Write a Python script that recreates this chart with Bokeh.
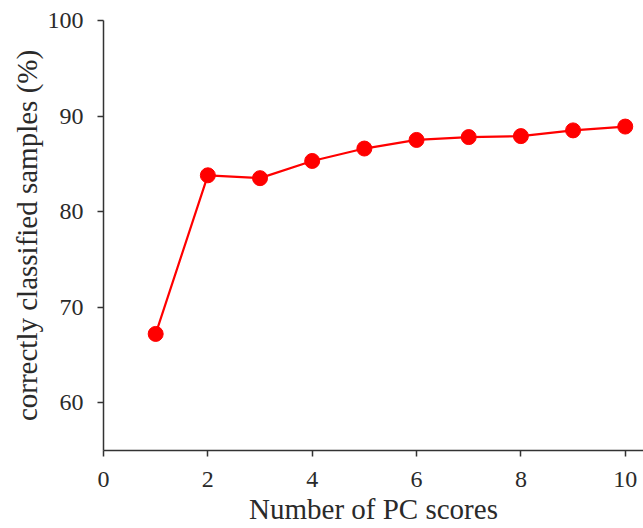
from bokeh.plotting import figure
from bokeh.models import Range1d, FixedTicker
from bokeh.embed import file_html
from bokeh.resources import INLINE

pc_scores = [1, 2, 3, 4, 5, 6, 7, 8, 9, 10]
correct_pct = [67.2, 83.8, 83.5, 85.3, 86.6, 87.5, 87.8, 87.9, 88.5, 88.9]
x_ticks = [0, 2, 4, 6, 8, 10]
y_ticks = [60, 70, 80, 90, 100]

p = figure(width=643, height=528, output_backend="svg", toolbar_location=None,
           x_range=Range1d(0, 10.35), y_range=Range1d(55, 100),
           min_border_left=103, min_border_top=20, min_border_bottom=78, min_border_right=0)
p.outline_line_color = None
p.grid.visible = False
p.background_fill_color = "white"
p.border_fill_color = "white"

p.line(pc_scores, correct_pct, line_color="#ff0000", line_width=2.2)
p.scatter(pc_scores, correct_pct, size=15, fill_color="#ff0000", line_color="#ff0000")

font = "Liberation Serif"
for ax in (p.xaxis[0], p.yaxis[0]):
    ax.axis_line_color = "#333333"
    ax.axis_line_width = 1.5
    ax.major_tick_line_color = "#333333"
    ax.major_tick_line_width = 1.5
    ax.major_tick_out = 6
    ax.major_tick_in = 0
    ax.minor_tick_line_color = None
    ax.major_label_text_font = font
    ax.major_label_text_font_size = "24px"
    ax.major_label_text_color = "#2a2a2a"
    ax.axis_label_text_font = font
    ax.axis_label_text_font_size = "29px"
    ax.axis_label_text_font_style = "normal"
    ax.axis_label_text_color = "#2a2a2a"

p.xaxis.ticker = FixedTicker(ticks=x_ticks)
p.yaxis.ticker = FixedTicker(ticks=y_ticks)
p.xaxis.axis_label = "Number of PC scores"
p.yaxis.axis_label = "correctly classified samples (%)"
p.xaxis.major_label_standoff = 15
p.yaxis.major_label_standoff = 14
p.xaxis.axis_label_standoff = 3
p.yaxis.axis_label_standoff = 2

open("out.html", "w").write(file_html(p, INLINE))
